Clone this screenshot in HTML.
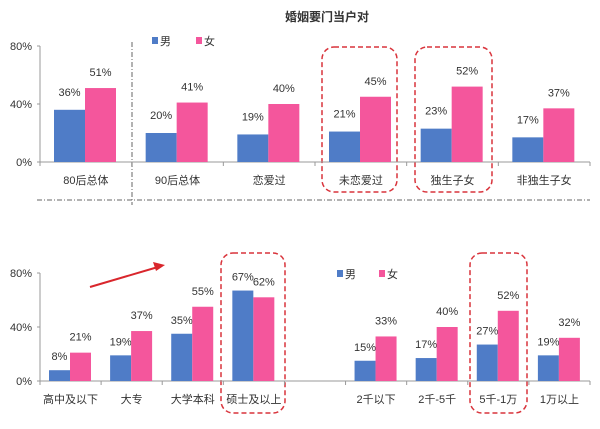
<!DOCTYPE html>
<html><head><meta charset="utf-8"><style>
body{margin:0;width:600px;height:424px;background:#fff;overflow:hidden}
svg text{font-family:"Liberation Sans","Noto Sans CJK SC",sans-serif;fill:#333}
</style></head><body>
<svg id="c" width="600" height="424" xmlns="http://www.w3.org/2000/svg">
<text x="327" y="21" font-size="12" font-weight="bold" text-anchor="middle">婚姻要门当户对</text>
<line x1="132" y1="42" x2="132" y2="205" stroke="#666" stroke-dasharray="5,2,1,2"/>
<line x1="37" y1="200" x2="590" y2="200" stroke="#666" stroke-dasharray="5,2,1,2"/>
<rect x="322" y="47" width="75" height="145" rx="12" fill="none" stroke="#d9343c" stroke-width="1.5" stroke-dasharray="5,3"/>
<rect x="415" y="47" width="77" height="145" rx="12" fill="none" stroke="#d9343c" stroke-width="1.5" stroke-dasharray="5,3"/>
<rect x="221" y="253" width="64" height="160" rx="12" fill="none" stroke="#d9343c" stroke-width="1.5" stroke-dasharray="5,3"/>
<rect x="470" y="253" width="57" height="160" rx="12" fill="none" stroke="#d9343c" stroke-width="1.5" stroke-dasharray="5,3"/>
<line x1="90" y1="287" x2="158" y2="267" stroke="#d9262c" stroke-width="2"/>
<polygon points="165,265 153,262 156,271" fill="#d9262c"/>
<rect x="152" y="37" width="6" height="7" fill="#4f7cc7"/>
<text x="160" y="45" font-size="11">男</text>
<rect x="196" y="37" width="6" height="7" fill="#f4569c"/>
<text x="204" y="45" font-size="11">女</text>
<rect x="337" y="270" width="6" height="7" fill="#4f7cc7"/>
<text x="345" y="278" font-size="11">男</text>
<rect x="379" y="270" width="6" height="7" fill="#f4569c"/>
<text x="387" y="278" font-size="11">女</text>
</svg>
<script>
const topCats=["80后总体","90后总体","恋爱过","未恋爱过","独生子女","非独生子女"];
const topMale=[36,20,19,21,23,17];
const topFemale=[51,41,40,45,52,37];
const botCats=["高中及以下","大专","大学本科","硕士及以上","","2千以下","2千-5千","5千-1万","1万以上"];
const botMale=[8,19,35,67,null,15,17,27,19];
const botFemale=[21,37,55,62,null,33,40,52,32];
const yTicks=[0,40,80];
const svg=document.getElementById('c');
const NS='http://www.w3.org/2000/svg';
function mk(t,a,txt){const e=document.createElementNS(NS,t);for(const k in a)e.setAttribute(k,a[k]);if(txt!=null)e.textContent=txt;svg.appendChild(e);return e;}
function drawChart(cats,male,female,o){
  const y=v=>o.y0-v/80*o.h;
  const step=(o.x1-o.x0)/cats.length;
  yTicks.forEach(t=>{const e=mk('text',{x:o.x0-8,y:y(t)+4,'font-size':11,'text-anchor':'end'},t+'%');
    
    
    const l=mk('line',{x1:o.x0-3,x2:o.x0,y1:y(t),y2:y(t),stroke:'#999'});
    
    });
  let ax=mk('line',{x1:o.x0,x2:o.x0,y1:y(80),y2:o.y0,stroke:'#999'});
  
  
  ax=mk('line',{x1:o.x0,x2:o.x1,y1:o.y0,y2:o.y0,stroke:'#999'});
  
  
  for(let i=0;i<=cats.length;i++){const l=mk('line',{x1:o.x0+i*step,x2:o.x0+i*step,y1:o.y0,y2:o.y0+4,stroke:'#999'});
    
    }
  cats.forEach((c,i)=>{
    const gx=o.x0+i*step;
    if(c){const t=mk('text',{x:gx+step/2,y:o.y0+o.ly,'font-size':11,'text-anchor':'middle'},c);
      
      }
    [[male[i],'#4f7cc7','male'],[female[i],'#f4569c','female']].forEach((s,j)=>{
      if(s[0]==null)return;
      const bx=gx+o.off+j*o.bw;
      const r=mk('rect',{x:bx,y:y(s[0]),width:o.bw,height:o.y0-y(s[0]),fill:s[1]});
      
      
      const t=mk('text',{x:bx+o.bw/2,y:y(s[0])-o.lo[j],'font-size':11,'text-anchor':'middle',fill:'#444'},s[0]+'%');
      
      
    });
  });
}
drawChart(topCats,topMale,topFemale,{p:'top',x0:40,x1:590,y0:162,h:116,off:14,bw:31,ly:22,lo:[14,12]});
drawChart(botCats,botMale,botFemale,{p:'bottom',x0:40,x1:590,y0:381,h:108,off:9,bw:21,ly:22,lo:[10,12]});
</script>
</body></html>
